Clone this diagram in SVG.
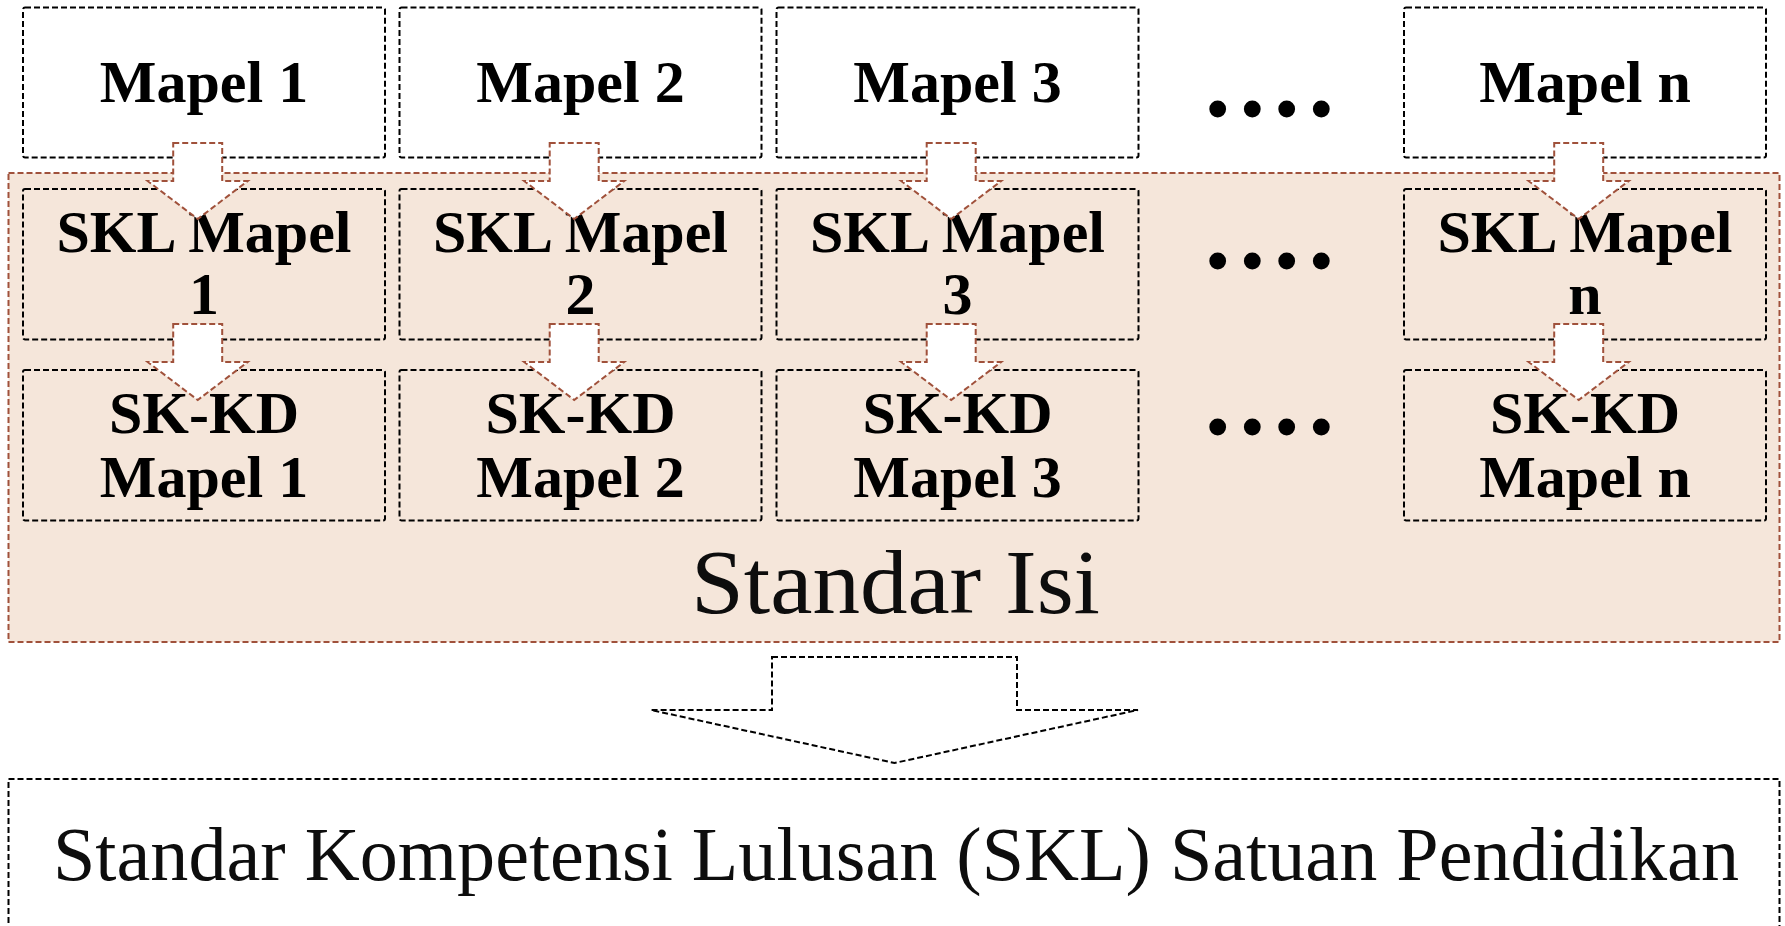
<svg xmlns="http://www.w3.org/2000/svg" width="1785" height="926" viewBox="0 0 1785 926">
<style>
.bg{fill:#ffffff}
.container{fill:#f5e6da;stroke:#a0513b;stroke-width:2;stroke-dasharray:6 3}
.box{fill:#ffffff;stroke:#000;stroke-width:2;stroke-dasharray:6 3}
.ibox{fill:none;stroke:#000;stroke-width:2;stroke-dasharray:6 3}
.arrow{fill:#ffffff;stroke:#a0513b;stroke-width:2;stroke-dasharray:6 3;stroke-linejoin:miter}
.big{fill:#ffffff;stroke:#000;stroke-width:2;stroke-dasharray:6 3}
.lbl{font-family:"Liberation Serif","Times New Roman",serif;font-weight:bold;font-size:60px;text-anchor:middle;fill:#000}
.reg{font-family:"Liberation Serif","Times New Roman",serif;text-anchor:middle;fill:#0d0d0d}
.dot{fill:#000}
</style>
<rect class="bg" x="0" y="0" width="1785" height="926"/>

<g id="standar-isi">
  <rect class="container" x="8.5" y="173" width="1771" height="469"/>
  <text class="reg" x="895.5" y="612.5" font-size="92" textLength="409" lengthAdjust="spacingAndGlyphs">Standar Isi</text>
</g>

<g id="mapel-1">
  <rect class="box" x="23" y="7.5" width="362" height="150" rx="2"/>
  <text class="lbl" x="204" y="102">Mapel 1</text>
</g>
<g id="mapel-2">
  <rect class="box" x="399.5" y="7.5" width="362" height="150" rx="2"/>
  <text class="lbl" x="580.5" y="102">Mapel 2</text>
</g>
<g id="mapel-3">
  <rect class="box" x="776.5" y="7.5" width="362" height="150" rx="2"/>
  <text class="lbl" x="957.5" y="102">Mapel 3</text>
</g>
<g id="mapel-n">
  <rect class="box" x="1404" y="7.5" width="362" height="150" rx="2"/>
  <text class="lbl" x="1585" y="102">Mapel n</text>
</g>

<g id="skl-mapel-1">
  <rect class="ibox" x="23" y="189" width="362" height="150.5" rx="2"/>
  <text class="lbl" x="204" y="252">SKL Mapel</text>
  <text class="lbl" x="204" y="314">1</text>
</g>
<g id="skl-mapel-2">
  <rect class="ibox" x="399.5" y="189" width="362" height="150.5" rx="2"/>
  <text class="lbl" x="580.5" y="252">SKL Mapel</text>
  <text class="lbl" x="580.5" y="314">2</text>
</g>
<g id="skl-mapel-3">
  <rect class="ibox" x="776.5" y="189" width="362" height="150.5" rx="2"/>
  <text class="lbl" x="957.5" y="252">SKL Mapel</text>
  <text class="lbl" x="957.5" y="314">3</text>
</g>
<g id="skl-mapel-n">
  <rect class="ibox" x="1404" y="189" width="362" height="150.5" rx="2"/>
  <text class="lbl" x="1585" y="252">SKL Mapel</text>
  <text class="lbl" x="1585" y="314">n</text>
</g>

<g id="skkd-mapel-1">
  <rect class="ibox" x="23" y="370" width="362" height="150.5" rx="2"/>
  <text class="lbl" x="204" y="433">SK-KD</text>
  <text class="lbl" x="204" y="497">Mapel 1</text>
</g>
<g id="skkd-mapel-2">
  <rect class="ibox" x="399.5" y="370" width="362" height="150.5" rx="2"/>
  <text class="lbl" x="580.5" y="433">SK-KD</text>
  <text class="lbl" x="580.5" y="497">Mapel 2</text>
</g>
<g id="skkd-mapel-3">
  <rect class="ibox" x="776.5" y="370" width="362" height="150.5" rx="2"/>
  <text class="lbl" x="957.5" y="433">SK-KD</text>
  <text class="lbl" x="957.5" y="497">Mapel 3</text>
</g>
<g id="skkd-mapel-n">
  <rect class="ibox" x="1404" y="370" width="362" height="150.5" rx="2"/>
  <text class="lbl" x="1585" y="433">SK-KD</text>
  <text class="lbl" x="1585" y="497">Mapel n</text>
</g>

<g id="ellipsis">
  <circle class="dot" cx="1217.7" cy="109" r="8.4"/>
  <circle class="dot" cx="1252.3" cy="109" r="8.4"/>
  <circle class="dot" cx="1286.7" cy="109" r="8.4"/>
  <circle class="dot" cx="1321.3" cy="109" r="8.4"/>
  <circle class="dot" cx="1217.7" cy="261" r="8.4"/>
  <circle class="dot" cx="1252.3" cy="261" r="8.4"/>
  <circle class="dot" cx="1286.7" cy="261" r="8.4"/>
  <circle class="dot" cx="1321.3" cy="261" r="8.4"/>
  <circle class="dot" cx="1217.7" cy="427" r="8.4"/>
  <circle class="dot" cx="1252.3" cy="427" r="8.4"/>
  <circle class="dot" cx="1286.7" cy="427" r="8.4"/>
  <circle class="dot" cx="1321.3" cy="427" r="8.4"/>
</g>

<g id="skl-satuan-pendidikan">
  <rect class="ibox" x="8.5" y="779" width="1771" height="200"/>
  <text class="reg" x="896" y="880" font-size="76" textLength="1686" lengthAdjust="spacingAndGlyphs">Standar Kompetensi Lulusan (SKL) Satuan Pendidikan</text>
</g>

<g id="connectors">
  <path class="arrow" d="M173.2,143 H222.2 V181 H247.7 L197.7,219 L147.7,181 H173.2 Z"/>
  <path class="arrow" d="M549.7,143 H598.7 V181 H624.2 L574.2,219 L524.2,181 H549.7 Z"/>
  <path class="arrow" d="M926.7,143 H975.7 V181 H1001.2 L951.2,219 L901.2,181 H926.7 Z"/>
  <path class="arrow" d="M1554.2,143 H1603.2 V181 H1628.7 L1578.7,219 L1528.7,181 H1554.2 Z"/>
  <path class="arrow" d="M173.2,324 H222.2 V362 H247.7 L197.7,400 L147.7,362 H173.2 Z"/>
  <path class="arrow" d="M549.7,324 H598.7 V362 H624.2 L574.2,400 L524.2,362 H549.7 Z"/>
  <path class="arrow" d="M926.7,324 H975.7 V362 H1001.2 L951.2,400 L901.2,362 H926.7 Z"/>
  <path class="arrow" d="M1554.2,324 H1603.2 V362 H1628.7 L1578.7,400 L1528.7,362 H1554.2 Z"/>
  <path class="big" d="M772,657 H1017 V710 H1138 L894.5,763 L651,710 H772 Z"/>
</g>
</svg>
